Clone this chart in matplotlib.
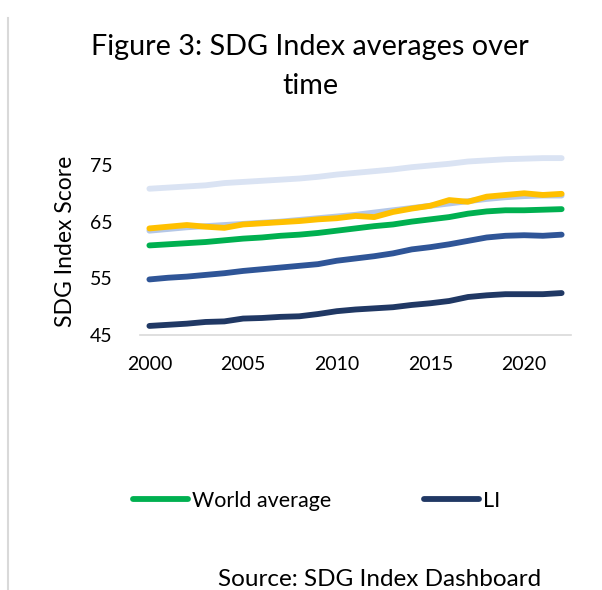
import matplotlib.pyplot as plt
from matplotlib.lines import Line2D

plt.rcParams['font.family'] = ['Lato', 'DejaVu Sans']

years = list(range(2000, 2023))

# (SDG Index score by group)
hi = [70.8, 71.0, 71.2, 71.4, 71.8, 72.0, 72.2, 72.4, 72.6, 72.9, 73.3, 73.6,
      73.9, 74.2, 74.6, 74.9, 75.2, 75.6, 75.8, 76.0, 76.1, 76.2, 76.2]
umi = [63.4, 63.7, 64.0, 64.2, 64.4, 64.6, 64.8, 65.0, 65.3, 65.6, 65.9, 66.2,
       66.6, 67.0, 67.4, 67.8, 68.2, 68.6, 69.0, 69.3, 69.5, 69.6, 69.6]
asia = [63.8, 64.1, 64.4, 64.1, 63.9, 64.5, 64.7, 64.9, 65.1, 65.4, 65.6, 66.0,
        65.8, 66.7, 67.3, 67.8, 68.8, 68.5, 69.4, 69.7, 70.0, 69.7, 69.9]
world = [60.8, 61.0, 61.2, 61.4, 61.7, 62.0, 62.2, 62.5, 62.7, 63.0, 63.4, 63.8,
         64.2, 64.5, 65.0, 65.4, 65.8, 66.4, 66.8, 67.0, 67.0, 67.1, 67.2]
lmi = [54.8, 55.1, 55.3, 55.6, 55.9, 56.3, 56.6, 56.9, 57.2, 57.5, 58.1, 58.5,
       58.9, 59.4, 60.1, 60.5, 61.0, 61.6, 62.2, 62.5, 62.6, 62.5, 62.7]
li = [46.6, 46.8, 47.0, 47.3, 47.4, 47.9, 48.0, 48.2, 48.3, 48.7, 49.2, 49.5,
      49.7, 49.9, 50.3, 50.6, 51.0, 51.7, 52.0, 52.2, 52.2, 52.2, 52.4]

series = [
    ('HI', hi, '#DAE3F3'),
    ('UMI', umi, '#B4C7E7'),
    ('East & South Asia', asia, '#FFC000'),
    ('World average', world, '#00B050'),
    ('LMI', lmi, '#2F5597'),
    ('LI', li, '#203864'),
]

fig = plt.figure(figsize=(6.02, 5.90), dpi=100)
ax = fig.add_axes([0.2326, 0.4322, 0.7159, 0.3171])

for name, vals, col in series:
    ax.plot(years, vals, color=col, lw=4.2, solid_capstyle='round',
            solid_joinstyle='round', label=name)

ax.set_xlim(1999.5, 2022.5)
ax.set_ylim(45, 78)
ax.set_yticks([45, 55, 65, 75])
ax.set_xticks([2000, 2005, 2010, 2015, 2020])
for s in ['top', 'right', 'left']:
    ax.spines[s].set_visible(False)
ax.spines['bottom'].set_color('#D9D9D9')
ax.spines['bottom'].set_linewidth(1.2)
ax.tick_params(length=0, labelsize=14, colors='black')
ax.tick_params(axis='x', pad=15)
ax.tick_params(axis='y', pad=20)
ax.set_ylabel('SDG Index Score', fontsize=16.5, labelpad=10)

fig.text(0.515, 0.92, 'Figure 3: SDG Index averages over', ha='center',
         va='center', fontsize=20.7)
fig.text(0.515, 0.855, 'time', ha='center', va='center', fontsize=20.7)

handles = [Line2D([], [], color='#00B050', lw=4.2, solid_capstyle='round'),
           Line2D([], [], color='#203864', lw=4.2, solid_capstyle='round')]
fig.legend(handles, ['World average', 'LI'], loc='center left',
           bbox_to_anchor=(0.221, 0.151), ncol=2, frameon=False, fontsize=15.5,
           handlelength=2.55, handletextpad=0.2, columnspacing=4.3,
           borderpad=0, borderaxespad=0)

fig.text(0.362, 0.018, 'Source: SDG Index Dashboard', ha='left', va='center',
         fontsize=17.5)

fig.add_artist(Line2D([0.013, 0.013], [0, 0.97], color='#D9D9D9', lw=1.5))

fig.savefig('out.png', dpi=100)
